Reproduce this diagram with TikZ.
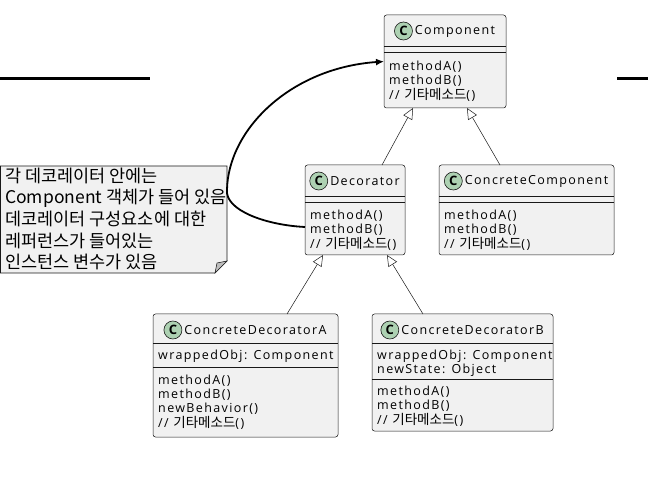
\documentclass[tikz,border=0pt]{standalone}
\usepackage{fontspec}
\setmainfont{Open Sans}
\newfontfamily\umlfont{Open Sans}[LetterSpace=11]
\newfontfamily\krfont{Noto Sans CJK KR}
\usetikzlibrary{arrows.meta,calc,positioning}
\definecolor{UmlFill}{RGB}{241,241,241}
\definecolor{UmlLine}{RGB}{24,24,24}
\definecolor{UmlBadge}{RGB}{173,209,178}
\definecolor{UmlFold}{RGB}{190,190,190}
\newcommand{\etcmethods}{// {\krfont\fontsize{13.5}{15}\selectfont 기타메소드}()}

\begin{document}
\begin{tikzpicture}[x=1pt,y=-1pt,
  classbox/.style={draw=UmlLine, fill=UmlFill, rounded corners=2.5pt, line width=0.5pt, anchor=north west, inner sep=0pt, outer sep=0pt},
  badge/.style={circle, draw=UmlLine, fill=UmlBadge, minimum size=18pt, inner sep=0pt, line width=0.6pt, font=\fontsize{13}{13}\selectfont\bfseries},
  classname/.style={inner sep=0pt, font=\umlfont\fontsize{12.5}{15}\selectfont},
  memberline/.style={anchor=west, inner sep=0pt, font=\umlfont\fontsize{12.5}{15}\selectfont},
  rowline/.style={draw=UmlLine, line width=0.5pt},
  inherit/.style={draw=UmlLine, line width=0.5pt, -{Triangle[length=11pt,width=10pt,fill=white]}},
  notelink/.style={line width=1.8pt, -{Latex[length=8pt,width=7pt]}}]
\fill[white] (0,0) rectangle (648,486);
\useasboundingbox (0,0) rectangle (648,486);

% rules at the top
\draw[line width=2.2pt] (0,78.5) -- (150,78.5);
\draw[line width=2.2pt] (617,78.5) -- (648,78.5);

% Component
\node[classbox, minimum width=122pt, minimum height=93pt] (comp) at (384,15) {};
\node[classname] (compname) at ($(comp.north)+(10,16)$) {Component};
\node[badge, left=2pt of compname] (compbadge) {C};
\draw[rowline] (384,46) -- (506,46);
\draw[rowline] (384,52) -- (506,52);
\foreach \y/\t in {67/methodA(), 81/methodB(), 95/\etcmethods}
  \node[memberline] (comp-\y) at (389,\y) {\t};

% Decorator
\node[classbox, minimum width=100pt, minimum height=90pt] (deco) at (305,165) {};
\node[classname] (deconame) at ($(deco.north)+(10,16)$) {Decorator};
\node[badge, left=2pt of deconame] (decobadge) {C};
\draw[rowline] (305,196) -- (405,196);
\draw[rowline] (305,202) -- (405,202);
\foreach \y/\t in {216/methodA(), 230/methodB(), 244/\etcmethods}
  \node[memberline] (deco-\y) at (310,\y) {\t};

% ConcreteComponent
\node[classbox, minimum width=175pt, minimum height=90pt] (concomp) at (439,165) {};
\node[classname] (concompname) at ($(concomp.north)+(10,16)$) {ConcreteComponent};
\node[badge, left=2pt of concompname] (concompbadge) {C};
\draw[rowline] (439,196) -- (614,196);
\draw[rowline] (439,202) -- (614,202);
\foreach \y/\t in {216/methodA(), 230/methodB(), 244/\etcmethods}
  \node[memberline] (concomp-\y) at (444,\y) {\t};

% ConcreteDecoratorA
\node[classbox, minimum width=185pt, minimum height=123pt] (decoA) at (153,314) {};
\node[classname] (decoAname) at ($(decoA.north)+(10,16)$) {ConcreteDecoratorA};
\node[badge, left=2pt of decoAname] (decoAbadge) {C};
\draw[rowline] (153,343) -- (338,343);
\node[memberline] (decoA-obj) at (158,356) {wrappedObj: Component};
\draw[rowline] (153,367) -- (338,367);
\foreach \y/\t in {381/methodA(), 395/methodB(), 409/newBehavior(), 423/\etcmethods}
  \node[memberline] (decoA-\y) at (158,\y) {\t};

% ConcreteDecoratorB
\node[classbox, minimum width=181pt, minimum height=117pt] (decoB) at (372,314) {};
\node[classname] (decoBname) at ($(decoB.north)+(10,16)$) {ConcreteDecoratorB};
\node[badge, left=2pt of decoBname] (decoBbadge) {C};
\draw[rowline] (372,343) -- (553,343);
\node[memberline] (decoB-obj) at (377,356) {wrappedObj: Component};
\node[memberline] (decoB-state) at (377,370) {newState: Object};
\draw[rowline] (372,379) -- (553,379);
\foreach \y/\t in {392/methodA(), 406/methodB(), 420/\etcmethods}
  \node[memberline] (decoB-\y) at (377,\y) {\t};

% inheritance
\draw[inherit] ([xshift=27pt]deco.north) -- ([xshift=-32pt]comp.south);
\draw[inherit] ([xshift=-26.5pt]concomp.north) -- ([xshift=22pt]comp.south);
\draw[inherit] ([xshift=41.5pt]decoA.north) -- ([xshift=-32pt]deco.south);
\draw[inherit] ([xshift=-39.5pt]decoB.north) -- ([xshift=32pt]deco.south);

% note
\draw[draw=UmlLine, fill=UmlFill, line width=0.6pt] (0.5,166) -- (227,166) -- (227,261) -- (215,273) -- (0.5,273) -- cycle;
\filldraw[draw=UmlLine, fill=UmlFold, line width=0.5pt] (215,273) -- (217,263) -- (227,261) -- cycle;
\node[anchor=west, inner sep=0pt, align=left, font=\krfont\fontsize{17.5}{21.7}\selectfont] (note) at (5,219)
  {각 데코레이터 안에는\\ Component 객체가 들어 있음\\ 데코레이터 구성요소에 대한\\ 레퍼런스가 들어있는\\ 인스턴스 변수가 있음};

\draw[notelink] ([yshift=-17pt]deco.west) .. controls (265,225) and (225,210) .. (227,190)
  .. controls (228,130) and (290,68) .. (comp.west);
\end{tikzpicture}
\end{document}
